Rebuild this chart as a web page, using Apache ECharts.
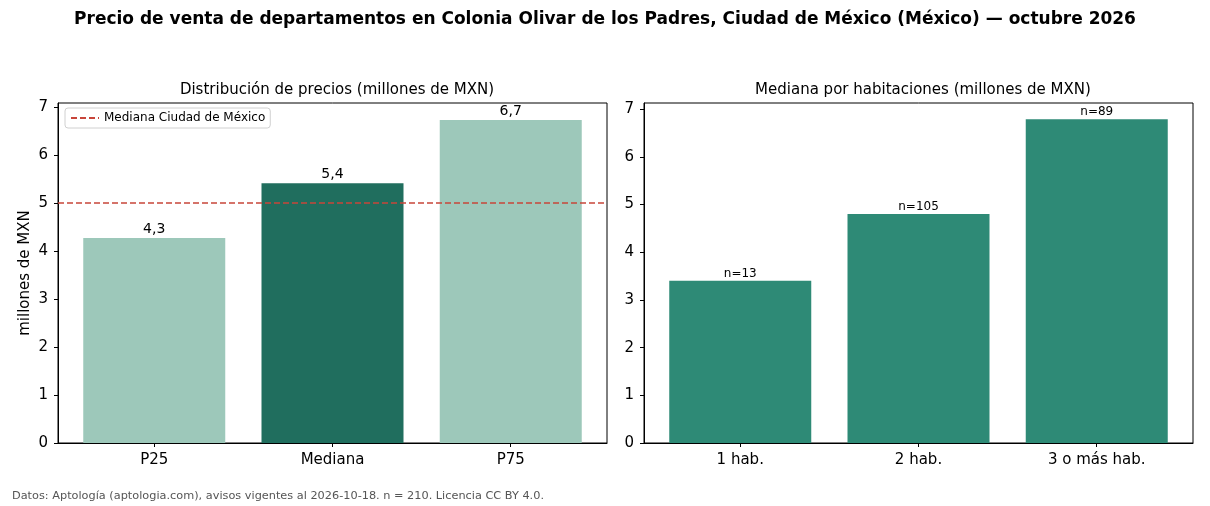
<!DOCTYPE html>
<html><head><meta charset="utf-8">
<script src="https://cdn.jsdelivr.net/npm/echarts@6/dist/echarts.min.js"></script>
<style>html,body{margin:0;padding:0;background:#fff}#c{width:1210px;height:506px}</style>
</head><body><div id="c"></div>
<script>
const titleText = 'Precio de venta de departamentos en Colonia Olivar de los Padres, Ciudad de México (México) — octubre 2026';
const leftTitle = 'Distribución de precios (millones de MXN)';
const rightTitle = 'Mediana por habitaciones (millones de MXN)';
const footer = 'Datos: Aptología (aptologia.com), avisos vigentes al 2026-10-18. n = 210. Licencia CC BY 4.0.';
const statCategories = ['P25', 'Mediana', 'P75'];
const statValues = [4.27, 5.41, 6.73];
const statColors = ['#9dc8ba', '#206e5e', '#9dc8ba'];
const cdmxMedian = 5.0;
const roomCategories = ['1 hab.', '2 hab.', '3 o más hab.'];
const roomValues = [3.40, 4.80, 6.79];
const roomCounts = [13, 105, 89];
const yTicks = [0, 1, 2, 3, 4, 5, 6, 7];
const xTicks = [0, 1, 2];

const FONT = 'DejaVu Sans';
const chart = echarts.init(document.getElementById('c'), null, {renderer: 'canvas'});

function xAxisFor(gridIndex, cats) {
  return {
    type: 'value', gridIndex, min: -0.54, max: 2.54,
    splitLine: {show: false},
    axisLine: {show: true, onZero: false, lineStyle: {color: '#000', width: 1}},
    axisTick: {show: true, customValues: xTicks, length: 4, lineStyle: {color: '#000'}},
    axisLabel: {customValues: xTicks, formatter: v => cats[Math.round(v)], color: '#000',
      fontFamily: FONT, fontSize: 15, margin: 10}
  };
}
function yAxisFor(gridIndex, max, name) {
  return {
    type: 'value', gridIndex, min: 0, max,
    name, nameLocation: 'middle', nameGap: 25,
    nameTextStyle: {fontFamily: FONT, fontSize: 15, color: '#000'},
    splitLine: {show: false},
    axisLine: {show: true, onZero: false, lineStyle: {color: '#000', width: 1}},
    axisTick: {show: true, customValues: yTicks, length: 4, lineStyle: {color: '#000'}},
    axisLabel: {customValues: yTicks, color: '#000', fontFamily: FONT, fontSize: 15, margin: 10}
  };
}

const option = {
  animation: false,
  backgroundColor: '#fff',
  textStyle: {fontFamily: FONT},
  title: [
    {text: titleText, left: 'center', top: 6,
      textStyle: {fontFamily: FONT, fontSize: 17, fontWeight: 'bold', color: '#000'}},
    {text: leftTitle, left: 332, textAlign: 'center', top: 78,
      textStyle: {fontFamily: FONT, fontSize: 15, fontWeight: 'normal', color: '#000'}},
    {text: rightTitle, left: 918, textAlign: 'center', top: 78,
      textStyle: {fontFamily: FONT, fontSize: 15, fontWeight: 'normal', color: '#000'}},
    {text: footer, left: 12, top: 491, padding: 0,
      textStyle: {fontFamily: FONT, fontSize: 11.3, fontWeight: 'normal', color: '#555'}}
  ],
  legend: {
    left: 65, top: 108, orient: 'vertical',
    data: ['Mediana Ciudad de México'],
    itemWidth: 28, itemHeight: 12, itemGap: 4,
    itemStyle: {opacity: 0},
    backgroundColor: '#fff', borderColor: '#d0d0d0', borderWidth: 1, borderRadius: 3,
    padding: [4, 5, 4, 5],
    textStyle: {fontFamily: FONT, fontSize: 12, color: '#000'}
  },
  grid: [
    {left: 58, top: 103, width: 549, height: 340, show: true, borderColor: '#000', borderWidth: 1, backgroundColor: 'transparent'},
    {left: 644, top: 103, width: 549, height: 340, show: true, borderColor: '#000', borderWidth: 1, backgroundColor: 'transparent'}
  ],
  xAxis: [xAxisFor(0, statCategories), xAxisFor(1, roomCategories)],
  yAxis: [yAxisFor(0, 7.083, 'millones de MXN'), yAxisFor(1, 7.13, '')],
  series: [
    {
      type: 'bar', xAxisIndex: 0, yAxisIndex: 0, barWidth: 142,
      data: statValues.map((v, i) => ({value: [i, v], itemStyle: {color: statColors[i]}})),
      label: {show: true, position: 'top', distance: 2, color: '#000', fontFamily: FONT, fontSize: 14,
        formatter: p => p.value[1].toFixed(1).replace('.', ',')}
    },
    {
      name: 'Mediana Ciudad de México', type: 'line', xAxisIndex: 0, yAxisIndex: 0, data: [],
      symbol: 'none',
      itemStyle: {color: '#c8453a'},
      lineStyle: {color: '#c8453a', type: [6, 3], width: 1.5},
      markLine: {symbol: 'none', silent: true, label: {show: false},
        lineStyle: {color: '#c8453a', type: [6, 3], width: 1.5},
        data: [{yAxis: cdmxMedian}]}
    },
    {
      type: 'bar', xAxisIndex: 1, yAxisIndex: 1, barWidth: 142,
      data: roomValues.map((v, i) => ({value: [i, v]})),
      itemStyle: {color: '#2e8a76'},
      label: {show: true, position: 'top', distance: 1, color: '#000', fontFamily: FONT, fontSize: 12,
        formatter: p => 'n=' + roomCounts[p.dataIndex]}
    }
  ]
};
chart.setOption(option);
</script></body></html>
